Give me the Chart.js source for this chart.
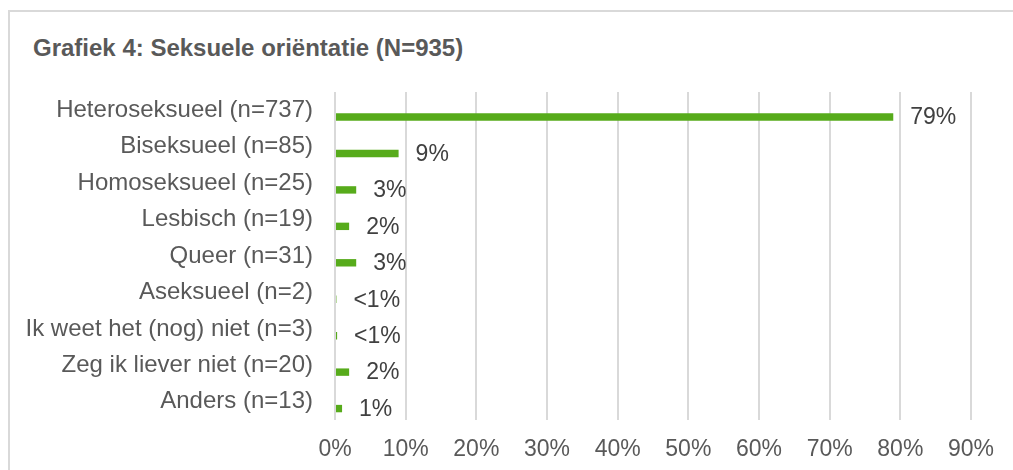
<!DOCTYPE html>
<html>
<head>
<meta charset="utf-8">
<script src="https://cdn.jsdelivr.net/npm/chart.js@4"></script>
<style>
  html, body { margin: 0; padding: 0; background: #fff; overflow: hidden; }
  #wrap { position: relative; width: 1013px; height: 470px; }
  #frame {
    position: absolute; left: 8px; top: 10px; width: 2000px; height: 2000px;
    border-left: 2px solid #d9d9d9; border-top: 2px solid #d9d9d9;
  }
  #title {
    position: absolute; left: 33px; top: 36px; margin: 0;
    font: bold 24px "Liberation Sans", Arial, sans-serif; line-height: 24px;
    color: #595959; white-space: nowrap;
  }
  #chart { position: absolute; left: 0; top: 0; }
</style>
</head>
<body>
<div id="wrap">
  <div id="frame"></div>
  <h1 id="title">Grafiek 4: Seksuele oriëntatie (N=935)</h1>
  <canvas id="chart" width="1013" height="470"></canvas>
</div>
<script>
  // categorieën en waarden (percentages)
  const categories = [
    "Heteroseksueel (n=737)",
    "Biseksueel (n=85)",
    "Homoseksueel (n=25)",
    "Lesbisch (n=19)",
    "Queer (n=31)",
    "Aseksueel (n=2)",
    "Ik weet het (nog) niet (n=3)",
    "Zeg ik liever niet (n=20)",
    "Anders (n=13)"
  ];
  const values = [79, 9, 3, 2, 3, 0.2, 0.3, 2, 1];
  const valueLabels = ["79%", "9%", "3%", "2%", "3%", "<1%", "<1%", "2%", "1%"];
  const emptySeries = categories.map(() => null);

  const FONT = '"Liberation Sans", Arial, sans-serif';

  // === LABELS NAAST DE BALKEN ===
  const barLabels = {
    id: "barLabels",
    afterDatasetsDraw(chart) {
      const ctx = chart.ctx;
      const meta = chart.getDatasetMeta(1);
      ctx.save();
      ctx.font = "23px " + FONT;
      ctx.fillStyle = "#404040";
      ctx.textAlign = "left";
      ctx.textBaseline = "middle";
      meta.data.forEach((bar, i) => {
        ctx.fillText(valueLabels[i], bar.x + 17, bar.y + 1);
      });
      ctx.restore();
    }
  };

  new Chart(document.getElementById("chart"), {
    type: "bar",
    data: {
      labels: categories,
      datasets: [
        { label: "", data: emptySeries, backgroundColor: "#57ab1b" },
        { label: "Seksuele oriëntatie", data: values, backgroundColor: "#57ab1b" }
      ]
    },
    options: {
      indexAxis: "y",
      responsive: false,
      animation: false,
      categoryPercentage: 0.746,
      barPercentage: 0.545,
      layout: { padding: { left: 0, right: 42, top: 92, bottom: 0 } },
      plugins: {
        legend: { display: false },
        tooltip: { enabled: false }
      },
      scales: {
        x: {
          min: 0,
          max: 90,
          afterFit: (scale) => { scale.height = 50; },
          border: { display: false },
          grid: { color: "#d9d9d9", lineWidth: 2, drawTicks: false },
          ticks: {
            stepSize: 10,
            padding: 16,
            color: "#595959",
            font: { family: FONT, size: 23 },
            callback: (v) => v + "%"
          }
        },
        y: {
          afterFit: (scale) => { scale.width = 335; },
          border: { display: false },
          grid: { display: false, drawTicks: false },
          ticks: {
            padding: 22,
            color: "#595959",
            font: { family: FONT, size: 24 }
          }
        }
      }
    },
    plugins: [barLabels]
  });
</script>
</body>
</html>
